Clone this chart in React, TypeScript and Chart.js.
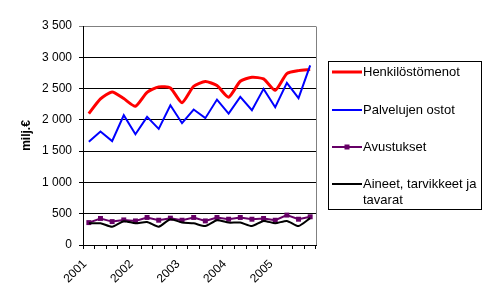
import React, { useEffect, useRef } from "react";
import { Chart, registerables } from "chart.js";

Chart.register(...registerables);

const categories = [
  "2001 Q1", "2001 Q2", "2001 Q3", "2001 Q4",
  "2002 Q1", "2002 Q2", "2002 Q3", "2002 Q4",
  "2003 Q1", "2003 Q2", "2003 Q3", "2003 Q4",
  "2004 Q1", "2004 Q2", "2004 Q3", "2004 Q4",
  "2005 Q1", "2005 Q2", "2005 Q3", "2005 Q4",
];
const tickLabels = [
  "2001", "", "", "",
  "2002", "", "", "",
  "2003", "", "", "",
  "2004", "", "", "",
  "2005", "", "", "",
];

const seriesNames = ["Henkilöstömenot", "Palvelujen ostot", "Avustukset", "Aineet, tarvikkeet ja tavarat"];
const legendLines = [["Henkilöstömenot"], ["Palvelujen ostot"], ["Avustukset"], ["Aineet, tarvikkeet ja", "tavarat"]];

const henkilostomenot = [2100, 2335, 2447, 2340, 2218, 2440, 2527, 2510, 2275, 2537, 2612, 2548, 2362, 2617, 2680, 2654, 2473, 2740, 2787, 2803];
const palvelujenOstot = [1649, 1814, 1660, 2074, 1771, 2048, 1856, 2234, 1947, 2165, 2027, 2324, 2101, 2367, 2154, 2495, 2202, 2590, 2346, 2872];
const avustukset = [358, 424, 374, 401, 385, 440, 396, 429, 396, 440, 385, 440, 412, 440, 412, 424, 396, 478, 412, 451];
const aineet = [347, 347, 292, 380, 347, 368, 292, 413, 358, 347, 302, 396, 358, 358, 302, 385, 347, 385, 302, 429];

const yMin = 0;
const yMax = 3500;
const yStep = 500;

const FONT = "'Liberation Sans', Arial, sans-serif";
const colors = ["#FF0000", "#0000FF", "#660066", "#000000"];
const widths = [3, 2, 2, 2];

const fmt = (v: number) => String(v).replace(/\B(?=(\d{3})+(?!\d))/g, " ");

const frameAndLegend = {
  id: "frameAndLegend",
  beforeDatasetsDraw(chart: any) {
    const { ctx, chartArea } = chart;
    ctx.save();
    ctx.strokeStyle = "#808080";
    ctx.lineWidth = 1;
    const r = Math.round(chartArea.right) + 0.5;
    ctx.beginPath();
    ctx.moveTo(r, Math.round(chartArea.top) + 0.5);
    ctx.lineTo(r, Math.round(chartArea.bottom));
    ctx.stroke();
    ctx.restore();
  },
  afterDraw(chart: any) {
    const ctx = chart.ctx;
    ctx.save();
    ctx.strokeStyle = "#000";
    ctx.lineWidth = 1;
    ctx.strokeRect(328.5, 61.5, 153, 148);
    const ys = [72, 110, 147, 184];
    ctx.font = `13px ${FONT}`;
    ctx.textBaseline = "middle";
    ctx.textAlign = "left";
    ctx.fillStyle = "#000";
    for (let i = 0; i < legendLines.length; i++) {
      const y = ys[i];
      ctx.strokeStyle = colors[i];
      ctx.lineWidth = widths[i];
      ctx.beginPath();
      ctx.moveTo(332, y);
      ctx.lineTo(362, y);
      ctx.stroke();
      if (i === 2) {
        ctx.fillStyle = colors[i];
        ctx.fillRect(344.5, y - 2.5, 5, 5);
        ctx.fillStyle = "#000";
      }
      legendLines[i].forEach((t, j) => ctx.fillText(t, 363, y + j * 16));
    }
    ctx.restore();
  },
};

export default function App() {
  const ref = useRef<HTMLCanvasElement>(null);
  useEffect(() => {
    if (!ref.current) return;
    const data = [henkilostomenot, palvelujenOstot, avustukset, aineet];
    const chart = new Chart(ref.current, {
      type: "line",
      data: {
        labels: categories,
        datasets: data.map((d, i) => ({
          label: seriesNames[i],
          data: d,
          borderColor: colors[i],
          backgroundColor: colors[i],
          borderWidth: widths[i],
          pointRadius: i === 2 ? 3.5 : 0,
          pointStyle: "rect",
          pointBorderWidth: 0,
          tension: i === 0 || i === 3 ? 0.2 : 0,
          order: 4 - i,
          fill: false,
        })),
      },
      options: {
        animation: false,
        responsive: false,
        devicePixelRatio: 1,
        layout: { padding: { top: 26, right: 174, left: 0, bottom: 0 } },
        plugins: { legend: { display: false }, tooltip: { enabled: false } },
        scales: {
          x: {
            type: "category",
            offset: true,
            afterFit: (s: any) => { s.height = 55; },
            grid: {
              offset: true,
              drawOnChartArea: false,
              drawTicks: true,
              tickLength: 4,
              color: "#000",
            },
            border: { color: "#000", width: 1 },
            ticks: {
              autoSkip: false,
              minRotation: 45,
              maxRotation: 45,
              padding: 8,
              labelOffset: -4,
              color: "#000",
              font: { family: FONT, size: 12 },
              callback: (_v: any, i: number) => tickLabels[i],
            },
          },
          y: {
            min: yMin,
            max: yMax,
            afterFit: (s: any) => { s.width = 83; },
            grid: {
              color: (c: any) => (c.tick && c.tick.value === yMax ? "#808080" : "#000"),
              drawTicks: true,
              tickLength: 4,
              lineWidth: 1,
            },
            border: { color: "#000", width: 1 },
            ticks: {
              stepSize: yStep,
              padding: 7,
              color: "#000",
              font: { family: FONT, size: 12 },
              callback: (v: any) => fmt(Number(v)),
            },
            title: {
              display: true,
              text: "milj.€",
              color: "#000",
              font: { family: FONT, size: 12, weight: "bold" },
              padding: { top: 19, bottom: 0 },
            },
          },
        },
      },
      plugins: [frameAndLegend],
    });
    return () => chart.destroy();
  }, []);
  return (
    <div style={{ position: "absolute", left: 0, top: 0, width: 490, height: 300, background: "#fff" }}>
      <canvas ref={ref} width={490} height={300} />
    </div>
  );
}
